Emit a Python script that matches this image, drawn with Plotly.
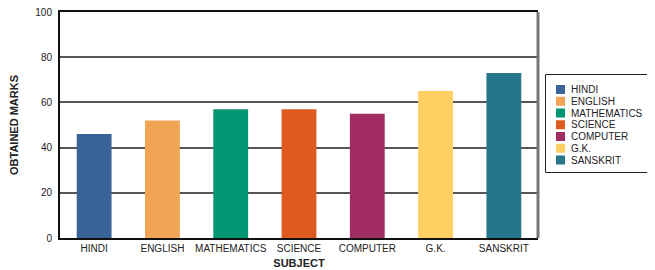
import plotly.graph_objects as go

subjects = ["HINDI", "ENGLISH", "MATHEMATICS", "SCIENCE", "COMPUTER", "G.K.", "SANSKRIT"]
marks = [46, 52, 57, 57, 55, 65, 73]
colors = ["#3a6497", "#f0a454", "#029672", "#de5a1f", "#a22d63", "#fecf62", "#27758a"]

OFF = 8  # default page body margin
W, H = 655 - OFF, 270 - OFF
L, T = 60 - OFF, 12 - OFF
PW, PH = 478, 226
R, B = W - L - PW, H - T - PH

def px(x):  # page pixel -> paper
    return (x - OFF - L) / PW

def py(y):
    return (T + PH - (y - OFF)) / PH

fig = go.Figure()
for s, m, c in zip(subjects, marks, colors):
    fig.add_trace(go.Bar(x=[s], y=[m], name=s, marker=dict(color=c, line=dict(width=0))))

fig.update_layout(
    width=W, height=H,
    margin=dict(l=L, r=R, t=T, b=B),
    paper_bgcolor="white", plot_bgcolor="white",
    barmode="overlay", bargap=0.49,
    font=dict(family="Liberation Sans, Arial, sans-serif", size=10, color="#222"),
    showlegend=False,
    xaxis=dict(categoryorder="array", categoryarray=subjects, automargin=False,
               showline=True, linecolor="#111", linewidth=2, mirror=True,
               ticks="", tickfont=dict(size=10),
               title=dict(text="<b>SUBJECT</b>", font=dict(size=11), standoff=6)),
    yaxis=dict(range=[0, 100], tickvals=[0, 20, 40, 60, 80, 100], automargin=False,
               showline=True, linecolor="#111", linewidth=2,
               showgrid=True, gridcolor="#555", gridwidth=1.5,
               zeroline=False, ticks="", tickfont=dict(size=10), ticklabelstandoff=4,
               ticklabeloverflow="allow",
               title=dict(text="<b>OBTAINED MARKS</b>", font=dict(size=11), standoff=14)),
)
fig.add_shape(type="line", xref="paper", yref="paper", x0=1, x1=1, y0=0, y1=1,
              line=dict(color="#777", width=3))

# legend box built from the series lists
fig.add_shape(type="rect", xref="paper", yref="paper",
              x0=px(545.5), x1=px(653.5), y0=py(172.5), y1=py(74.5),
              line=dict(color="#222", width=1), fillcolor="white")
for i, (s, c) in enumerate(zip(subjects, colors)):
    cy = 89.5 + i * 11.75
    fig.add_shape(type="rect", xref="paper", yref="paper",
                  x0=px(556), x1=px(565), y0=py(cy + 4.5), y1=py(cy - 4.5),
                  line=dict(width=0), fillcolor=c)
    fig.add_annotation(xref="paper", yref="paper", x=px(569), y=py(cy),
                       xanchor="left", yanchor="middle", showarrow=False,
                       text=s, font=dict(size=10, color="#222"))
fig.write_html("out.html")
